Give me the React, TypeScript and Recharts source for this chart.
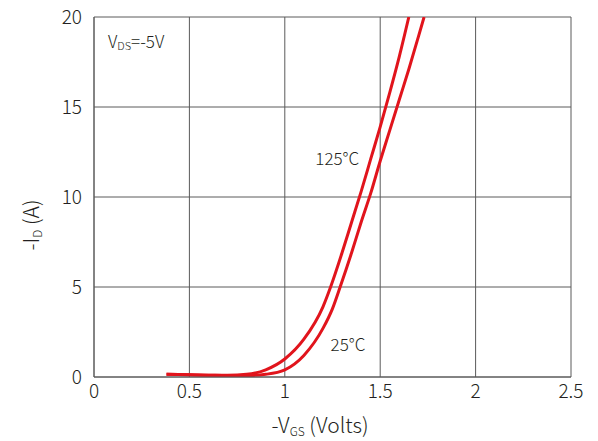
import React from 'react';
import { LineChart, Line, XAxis, YAxis, CartesianGrid, ReferenceDot, Label } from 'recharts';

const xTicks = [0, 0.5, 1, 1.5, 2, 2.5];
const yTicks = [0, 5, 10, 15, 20];

// -VGS (V) vs -ID (A)
const vgs125 = [0.38, 0.5, 0.6, 0.7, 0.8, 0.9, 1.0, 1.1, 1.2, 1.24, 1.3, 1.35, 1.4, 1.45, 1.5, 1.55, 1.6, 1.65];
const id125 = [0.15, 0.12, 0.1, 0.1, 0.15, 0.4, 1.0, 2.1, 3.9, 5.0, 6.9, 8.6, 10.3, 12.1, 13.9, 15.8, 17.8, 20];

const vgs25 = [0.38, 0.5, 0.6, 0.7, 0.8, 0.9, 1.0, 1.1, 1.2, 1.25, 1.29, 1.35, 1.4, 1.45, 1.5, 1.55, 1.6, 1.65, 1.7, 1.73];
const id25 = [0.15, 0.12, 0.1, 0.08, 0.08, 0.15, 0.4, 1.2, 2.7, 3.8, 5.0, 6.9, 8.6, 10.2, 12.0, 13.7, 15.4, 17.1, 18.9, 20];

const hot = vgs125.map((v, i) => ({ v, id: id125[i] }));
const room = vgs25.map((v, i) => ({ v, id: id25[i] }));

const RED = '#e1141c';
const TXT = '#231f20';
const GRID = '#5a5a5a';
const FONT = '"Noto Sans CJK JP", "Noto Sans", sans-serif';

const note = (main: string, sub?: string, rest?: string) => (props: any) => {
  const { viewBox } = props;
  const x = viewBox.x ?? viewBox.cx;
  const y = viewBox.y ?? viewBox.cy;
  return (
    <text x={x} y={y} fill={TXT} fontSize={17} fontFamily={FONT} fontWeight={300} dominantBaseline="central">
      <tspan>{main}</tspan>
      {sub && <tspan fontSize={11} dy={5}>{sub}</tspan>}
      {rest && <tspan dy={sub ? -5 : 0}>{rest}</tspan>}
    </text>
  );
};

const YTitle = () => (
  <text x={30} y={225} transform="rotate(-90 30 225)" textAnchor="middle" fill={TXT} fontSize={21} fontFamily={FONT} fontWeight={300} dominantBaseline="central">
    <tspan>-I</tspan>
    <tspan fontSize={12} dy={6}>D</tspan>
    <tspan dy={-6}> (A)</tspan>
  </text>
);

const XTitle = () => (
  <text x={320} y={424} textAnchor="middle" fill={TXT} fontSize={21} fontFamily={FONT} fontWeight={300} dominantBaseline="central">
    <tspan>-V</tspan>
    <tspan fontSize={12} dy={6}>GS</tspan>
    <tspan dy={-6}> (Volts)</tspan>
  </text>
);

export default function App() {
  const tick = { fontSize: 19, fill: TXT, fontFamily: FONT, fontWeight: 300 };
  return (
    <div style={{ position: 'absolute', left: 0, top: 0, width: 598, height: 441, background: '#fff' }}>
      <LineChart width={598} height={441} margin={{ top: 17, right: 27, bottom: 0, left: 0 }}>
        <CartesianGrid stroke={GRID} strokeWidth={1} horizontalValues={yTicks} verticalValues={xTicks} />
        <XAxis
          type="number"
          dataKey="v"
          domain={[0, 2.5]}
          ticks={xTicks}
          height={64}
          stroke={GRID}
          tickLine={false}
          tickSize={0}
          tickMargin={8}
          tick={tick}
          allowDataOverflow
        >
          <Label content={<XTitle />} />
        </XAxis>
        <YAxis
          type="number"
          domain={[0, 20]}
          ticks={yTicks}
          width={94}
          stroke={GRID}
          tickLine={false}
          tickSize={0}
          tickMargin={12}
          tick={tick}
          allowDataOverflow
        >
          <Label content={<YTitle />} />
        </YAxis>
        <Line data={hot} dataKey="id" type="monotone" stroke={RED} strokeWidth={3} dot={false} isAnimationActive={false} />
        <Line data={room} dataKey="id" type="monotone" stroke={RED} strokeWidth={3} dot={false} isAnimationActive={false} />
        <ReferenceDot x={1.16} y={12.2} r={0} label={note('125°C')} />
        <ReferenceDot x={1.24} y={1.9} r={0} label={note('25°C')} />
        <ReferenceDot x={0.073} y={18.7} r={0} label={note('V', 'DS', '=-5V')} />
      </LineChart>
    </div>
  );
}
